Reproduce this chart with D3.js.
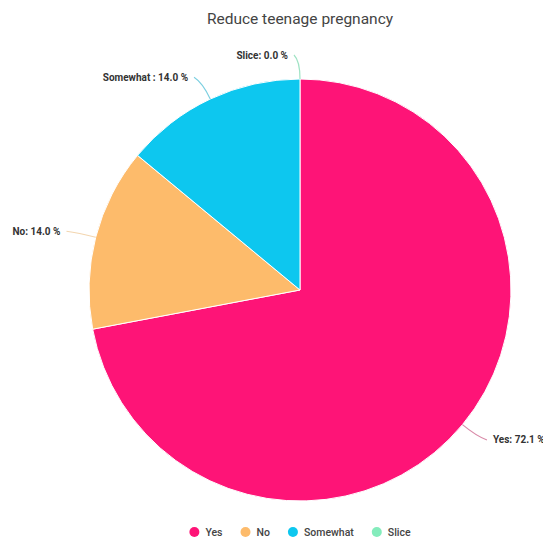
<!DOCTYPE html>
<html>
<head>
<meta charset="utf-8">
<script src="https://cdn.jsdelivr.net/npm/d3@7"></script>
<style>
  html, body { margin: 0; padding: 0; background: #fff; }
  svg { display: block; font-family: Roboto, "Noto Sans", sans-serif; }
</style>
</head>
<body>
<svg id="chart" width="543" height="538"></svg>
<script>
// Survey answers for "Reduce teenage pregnancy" (percent)
const categories = ["Yes", "No", "Somewhat", "Slice"];
const values = [72.1, 14.0, 14.0, 0.0];
const labelNames = ["Yes", "No", "Somewhat ", "Slice"];
const colors = ["#FE1477", "#FDBB6B", "#0DC7EF", "#84ECBC"];
const lineColors = ["#D98AA8", "#F3D6B0", "#7CCFE0", "#9FE3C4"];
const title = "Reduce teenage pregnancy";

const svg = d3.select("#chart");
const cx = 300, cy = 290, r = 211;

svg.append("text")
  .attr("x", cx).attr("y", 24)
  .attr("text-anchor", "middle")
  .attr("font-size", 15.5)
  .attr("fill", "#444")
  .text(title);

const data = categories.map((c, i) => ({ name: c, label: labelNames[i], value: values[i], color: colors[i], line: lineColors[i] }));

const pie = d3.pie().sort(null).value(d => d.value);
const arcs = pie(data);
const arc = d3.arc().innerRadius(0).outerRadius(r);

const g = svg.append("g").attr("transform", `translate(${cx},${cy})`);

g.selectAll("path.slice")
  .data(arcs)
  .join("path")
  .attr("class", "slice")
  .attr("d", arc)
  .attr("fill", d => d.data.color)
  .attr("stroke", "#fff")
  .attr("stroke-width", d => d.data.value > 0 ? 1 : 0);

// Connector lines and outside labels
const pt = (a, rad) => [rad * Math.sin(a), -rad * Math.cos(a)];
arcs.forEach(d => {
  const a = (d.startAngle + d.endAngle) / 2;
  const side = a > Math.PI ? -1 : 1;
  const p0 = pt(a, r);
  const p1 = pt(a, r + 18);
  const p2 = pt(a, r + 24);
  const end = [p2[0] + side * 6, p2[1]];
  g.append("path")
    .attr("d", `M${p0[0]},${p0[1]} Q${p1[0]},${p1[1]} ${end[0]},${end[1]}`)
    .attr("fill", "none")
    .attr("stroke", d.data.line)
    .attr("stroke-width", 1.2);
  g.append("text")
    .attr("x", end[0] + side * 6)
    .attr("y", end[1])
    .attr("dy", "0.35em")
    .attr("text-anchor", side > 0 ? "start" : "end")
    .attr("font-size", 10)
    .attr("font-weight", 700)
    .attr("fill", "#333")
    .text(`${d.data.label}: ${d.data.value.toFixed(1)} %`);
});

// Legend, centred under the pie
const legend = svg.append("g");
let x = 0;
const gap = 18;
data.forEach(d => {
  const it = legend.append("g");
  it.append("circle").attr("cx", 5).attr("cy", 0).attr("r", 5).attr("fill", d.color);
  const t = it.append("text")
    .attr("x", 16).attr("dy", "0.35em")
    .attr("font-size", 10.5)
    .attr("font-weight", 500)
    .attr("fill", "#444")
    .text(d.name);
  const w = 16 + t.node().getComputedTextLength();
  it.attr("transform", `translate(${x},0)`);
  x += w + gap;
});
const total = x - gap;
legend.attr("transform", `translate(${cx - total / 2},532)`);
</script>
</body>
</html>
